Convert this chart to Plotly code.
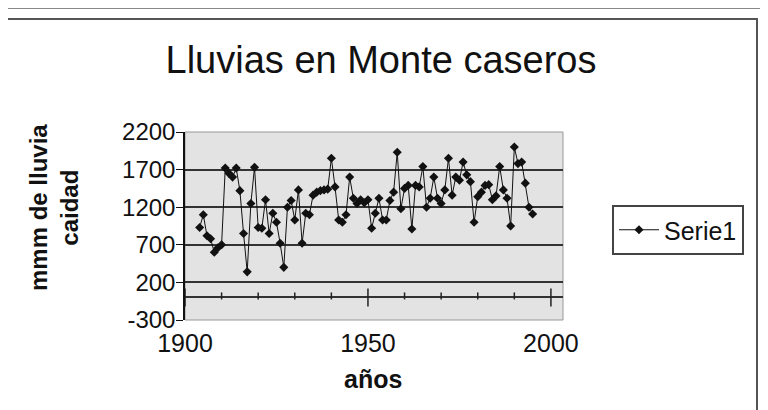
import plotly.graph_objects as go

years = list(range(1904, 1996))
rain = [930, 1100, 820, 780, 600, 660, 700, 1720, 1650, 1600,
        1720, 1420, 850, 340, 1250, 1730, 930, 920, 1300, 850,
        1120, 1000, 720, 400, 1200, 1290, 1030, 1430, 720, 1120,
        1100, 1360, 1400, 1420, 1430, 1440, 1850, 1470, 1030, 1000,
        1100, 1600, 1320, 1250, 1300, 1260, 1300, 920, 1120, 1320,
        1030, 1030, 1290, 1400, 1930, 1180, 1450, 1490, 910, 1490,
        1470, 1740, 1200, 1320, 1600, 1320, 1250, 1430, 1850, 1360,
        1600, 1560, 1800, 1630, 1540, 1000, 1340, 1400, 1490, 1500,
        1300, 1350, 1740, 1430, 1320, 950, 2000, 1780, 1800, 1520,
        1200, 1110]

y_ticks = [-300, 200, 700, 1200, 1700, 2200]
y_labels = ["-300", "200", "700", "1200", "1700", "2200"]
x_labels = [1900, 1950, 2000]
x_minor = [1910, 1920, 1930, 1940, 1960, 1970, 1980, 1990]
x_major = [1900, 1950, 2000]

FONT = "Liberation Sans, Arial, sans-serif"

# page body margin offsets the figure by 8 px; compensate
OFF = 8
W, H = 768, 410
L, R, T, B = 185 - OFF, 563 - OFF, 132 - OFF, 320 - OFF
def px(xp):
    return (xp - OFF - L) / (R - L)
def py(yp):
    return (B - (yp - OFF)) / (B - T)

fig = go.Figure()
fig.add_trace(go.Scatter(
    x=years, y=rain, mode="lines+markers", name="Serie1",
    line=dict(color="#111111", width=1),
    marker=dict(symbol="diamond", size=7, color="#111111"),
))

shapes = []
# outer frame
shapes.append(dict(type="rect", xref="paper", yref="paper",
                   x0=px(4), x1=px(757), y0=py(440), y1=py(19),
                   line=dict(color="#555555", width=2), layer="below"))
shapes.append(dict(type="line", xref="paper", yref="paper",
                   x0=px(0), x1=px(780), y0=py(8), y1=py(8),
                   line=dict(color="#888888", width=2)))
# plot area border
shapes.append(dict(type="rect", xref="paper", yref="paper",
                   x0=0, x1=1, y0=0, y1=1,
                   line=dict(color="#999999", width=1), layer="below"))
# ticks on the category axis crossing y = 0
for yr in x_minor:
    shapes.append(dict(type="line", xref="x", yref="y", ysizemode="pixel",
                       yanchor=0, x0=yr, x1=yr, y0=-2, y1=5,
                       line=dict(color="#222222", width=1.5)))
for yr in x_major:
    shapes.append(dict(type="line", xref="x", yref="y", ysizemode="pixel",
                       yanchor=0, x0=yr, x1=yr, y0=-9, y1=9,
                       line=dict(color="#222222", width=1.5)))

annotations = [
    dict(text="<b>mmm de lluvia<br>caidad</b>", textangle=-90,
         xref="paper", yref="paper", x=px(54), y=py(208),
         showarrow=False, font=dict(family=FONT, size=24, color="#111111"),
         xanchor="center", yanchor="middle"),
    dict(text="<b>años</b>", xref="paper", yref="paper",
         x=px(373), y=py(379), showarrow=False,
         font=dict(family=FONT, size=25, color="#111111"),
         xanchor="center", yanchor="middle"),
]

fig.update_layout(
    width=W, height=H,
    margin=dict(l=L, r=W - R, t=T, b=H - B),
    paper_bgcolor="white", plot_bgcolor="#e3e3e3",
    font=dict(family=FONT, size=25, color="#111111"),
    title=dict(text="Lluvias en Monte caseros", x=(381 - OFF) / W,
               y=1 - (60 - OFF) / H,
               xref="container", yref="container",
               xanchor="center", yanchor="middle",
               font=dict(family=FONT, size=38, color="#111111")),
    xaxis=dict(range=[1900, 2003.3], tickvals=x_labels,
               ticktext=[str(v) for v in x_labels],
               showgrid=False, zeroline=False, showline=False,
               ticks="", ticklabelstandoff=6,
               tickfont=dict(family=FONT, size=25, color="#111111")),
    yaxis=dict(range=[-300, 2200], tickvals=y_ticks, ticktext=y_labels,
               showgrid=True, gridcolor="#333333", gridwidth=1.5,
               zeroline=True, zerolinecolor="#333333", zerolinewidth=1.5,
               showline=True, linecolor="#111111", linewidth=1.5,
               ticks="outside", ticklen=7, tickcolor="#111111",
               ticklabelstandoff=-4,
               tickfont=dict(family=FONT, size=24, color="#111111")),
    legend=dict(xref="container", yref="container",
                x=(612 - OFF) / W, y=1 - (205 - OFF) / H,
                xanchor="left", yanchor="top",
                bordercolor="#444444", borderwidth=2, bgcolor="white",
                font=dict(family=FONT, size=25, color="#111111"),
                itemwidth=40),
    showlegend=True,
    shapes=shapes, annotations=annotations,
)

fig.write_html("out.html")
